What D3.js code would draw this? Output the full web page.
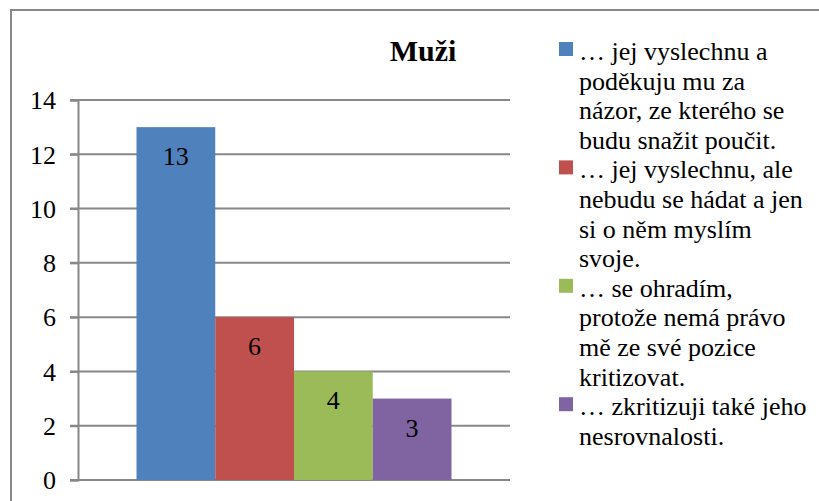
<!DOCTYPE html>
<html>
<head>
<meta charset="utf-8">
<script src="https://cdn.jsdelivr.net/npm/d3@7"></script>
<style>
  body { margin: 0; background: #fff; }
</style>
</head>
<body>
<div id="chart"></div>
<script>
// Data
const category = "Muži";
const seriesKeys = ["s1", "s2", "s3", "s4"];
const seriesValues = [13, 6, 4, 3];
const seriesLabels = [
  "… jej vyslechnu a\npoděkuju mu za\nnázor, ze kterého se\nbudu snažit poučit.",
  "… jej vyslechnu, ale\nnebudu se hádat a jen\nsi o něm myslím\nsvoje.",
  "… se ohradím,\nprotože nemá právo\nmě ze své pozice\nkritizovat.",
  "… zkritizuji také jeho\nnesrovnalosti."
];
const yTicks = [0, 2, 4, 6, 8, 10, 12, 14];
const colors = ["#4F81BD", "#C0504D", "#9BBB59", "#8064A2"];

const FONT = '"Liberation Serif"';
const W = 819, H = 501;
const svg = d3.select("#chart").append("svg")
  .attr("width", W)
  .attr("height", H);

// Outer chart border (cropped on right and bottom)
svg.append("rect")
  .attr("x", 11).attr("y", 10)
  .attr("width", 840).attr("height", 520)
  .attr("fill", "none")
  .attr("stroke", "#898989")
  .attr("stroke-width", 2);

const plot = { left: 78, right: 510, top: 100, bottom: 480 };

const y = d3.scaleLinear().domain([0, 14]).range([plot.bottom, plot.top]);
const x0 = d3.scaleBand().domain([category]).range([plot.left, plot.right])
  .paddingInner(0).paddingOuter(0.1857);
const x1 = d3.scaleBand().domain(seriesKeys).range([0, x0.bandwidth()]);

// Gridlines
svg.append("g")
  .selectAll("line")
  .data(yTicks)
  .join("line")
  .attr("x1", plot.left - 8)
  .attr("x2", plot.right)
  .attr("y1", d => y(d))
  .attr("y2", d => y(d))
  .attr("stroke", "#888")
  .attr("stroke-width", 2);

// Y axis
const yAxis = svg.append("g")
  .attr("transform", `translate(${plot.left},0)`)
  .call(d3.axisLeft(y).tickValues(yTicks).tickSize(8).tickPadding(14));
yAxis.select(".domain").attr("stroke", "#888").attr("stroke-width", 2);
yAxis.selectAll(".tick line").attr("stroke", "#888").attr("stroke-width", 2);
yAxis.selectAll(".tick text")
  .attr("fill", "#000")
  .attr("dy", "0.34em")
  .style("font-family", FONT)
  .style("font-size", "26px");

// Bars
const data = seriesKeys.map((k, i) => ({ key: k, value: seriesValues[i], color: colors[i] }));
const g = svg.append("g").attr("transform", `translate(${x0(category)},0)`);
g.selectAll("rect")
  .data(data)
  .join("rect")
  .attr("x", d => x1(d.key))
  .attr("y", d => y(d.value))
  .attr("width", x1.bandwidth())
  .attr("height", d => y(0) - y(d.value))
  .attr("fill", d => d.color);

g.selectAll("text.val")
  .data(data)
  .join("text")
  .attr("class", "val")
  .attr("x", d => x1(d.key) + x1.bandwidth() / 2)
  .attr("y", d => y(d.value) + 38)
  .attr("text-anchor", "middle")
  .style("font-family", FONT)
  .style("font-size", "26px")
  .text(d => d.value);

// Title
svg.append("text")
  .attr("x", 423)
  .attr("y", 61)
  .attr("text-anchor", "middle")
  .style("font-family", FONT)
  .style("font-size", "30px")
  .style("font-weight", "bold")
  .text(category);

// Legend
const lineH = 29.6;
let lineIdx = 0;
const legend = svg.append("g");
seriesLabels.forEach((label, i) => {
  const lines = label.split("\n");
  const baseY = 60 + lineIdx * lineH;
  legend.append("rect")
    .attr("x", 559)
    .attr("y", baseY - 18)
    .attr("width", 14)
    .attr("height", 14)
    .attr("fill", colors[i]);
  legend.selectAll(null)
    .data(lines)
    .join("text")
    .attr("x", 579)
    .attr("y", (d, j) => baseY + j * lineH)
    .style("font-family", FONT)
    .style("font-size", "26px")
    .text(d => d);
  lineIdx += lines.length;
});
</script>
</body>
</html>
